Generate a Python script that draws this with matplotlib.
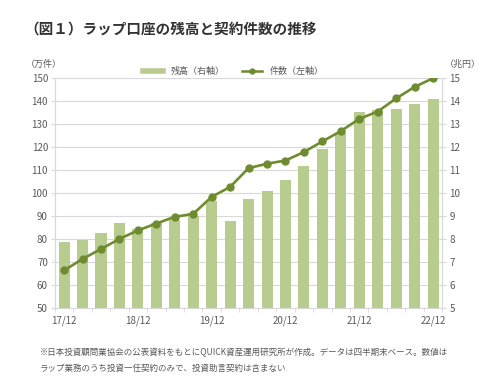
import matplotlib
matplotlib.use("Agg")
import matplotlib.pyplot as plt
from matplotlib.lines import Line2D
import numpy as np

plt.rcParams['font.family'] = ['Noto Sans CJK JP', 'DejaVu Sans']

# quarters 17/12 .. 22/12
quarters = ['17/12', '18/03', '18/06', '18/09', '18/12', '19/03', '19/06', '19/09',
            '19/12', '20/03', '20/06', '20/09', '20/12', '21/03', '21/06', '21/09',
            '21/12', '22/03', '22/06', '22/09', '22/12']
tick_labels = ['17/12', '18/12', '19/12', '20/12', '21/12', '22/12']

# 残高 (兆円, right axis)
balance = [7.87, 7.97, 8.26, 8.72, 8.45, 8.70, 8.85, 9.00, 9.68, 8.77, 9.76,
           10.11, 10.58, 11.20, 11.94, 12.61, 13.54, 13.63, 13.65, 13.87, 14.09]
# 件数 (万件, left axis)
contracts = [66.4, 71.4, 75.7, 80.1, 83.8, 86.8, 89.7, 91.0, 98.4, 102.7, 110.9,
             112.8, 114.2, 117.9, 122.5, 127.0, 132.3, 135.5, 141.2, 146.2, 150.0]

bar_color = '#b8cc8f'
line_color = '#6e8b2f'
text_color = '#595959'
grid_color = '#d9d9d9'

fig = plt.figure(figsize=(4.86, 3.91), dpi=100)
ax = fig.add_axes([0.113, 0.212, 0.797, 0.588])
ax2 = ax.twinx()

x = np.arange(len(quarters))

# bars on the right axis, drawn below the line axis
ax2.bar(x, balance, width=0.6, color=bar_color, zorder=2)
ax2.set_ylim(5, 15)
ax2.set_yticks(range(5, 16))
for v in range(6, 16):
    ax2.axhline(v, color=grid_color, linewidth=0.8, zorder=1)

ax.set_ylim(50, 150)
ax.set_yticks(range(50, 151, 10))
ax.set_zorder(ax2.get_zorder() + 1)
ax.patch.set_visible(False)

ax.plot(x, contracts, color=line_color, linewidth=1.9, marker='o',
        markersize=5, zorder=3)

ax.set_xlim(-0.5, len(quarters) - 0.5)
ax.set_xticks([0, 4, 8, 12, 16, 20])
ax.set_xticklabels(tick_labels)
ax.set_xticks(np.arange(-0.5, len(quarters), 1), minor=True)
ax.tick_params(axis='x', which='major', length=0, pad=5, labelsize=7, colors=text_color)
ax.tick_params(axis='x', which='minor', length=3, color=grid_color)
ax.tick_params(axis='y', length=3, color=grid_color, labelsize=7, colors=text_color, pad=2)
ax2.tick_params(axis='y', length=3, color=grid_color, labelsize=7, colors=text_color, pad=2)
for a in (ax, ax2):
    a.spines['top'].set_visible(False)
    for side in ('left', 'right', 'bottom'):
        a.spines[side].set_color(grid_color)

# legend
handles = [Line2D([], [], color=bar_color, linewidth=4),
           Line2D([], [], color=line_color, linewidth=1.8, marker='o', markersize=3.5)]
fig.legend(handles, ['残高（右軸）', '件数（左軸）'], loc='center', ncol=2,
           bbox_to_anchor=(0.48, 0.818), frameon=False, fontsize=6.5,
           labelcolor=text_color, handlelength=2.2, columnspacing=2.0)

fig.text(0.05, 0.927, '（図１）ラップ口座の残高と契約件数の推移', fontsize=10.5,
         fontweight='bold', color='#333333', va='center')
fig.text(0.052, 0.836, '（万件）', fontsize=6.5, color=text_color, va='center')
fig.text(0.915, 0.836, '（兆円）', fontsize=6.5, color=text_color, va='center')

fig.text(0.082, 0.098, '※日本投資顧問業協会の公表資料をもとにQUICK資産運用研究所が作成。データは四半期末ベース。数値は',
         fontsize=6.1, color=text_color, va='center')
fig.text(0.082, 0.058, 'ラップ業務のうち投資一任契約のみで、投資助言契約は含まない',
         fontsize=6.1, color=text_color, va='center')

fig.savefig('out.png', dpi=100)
